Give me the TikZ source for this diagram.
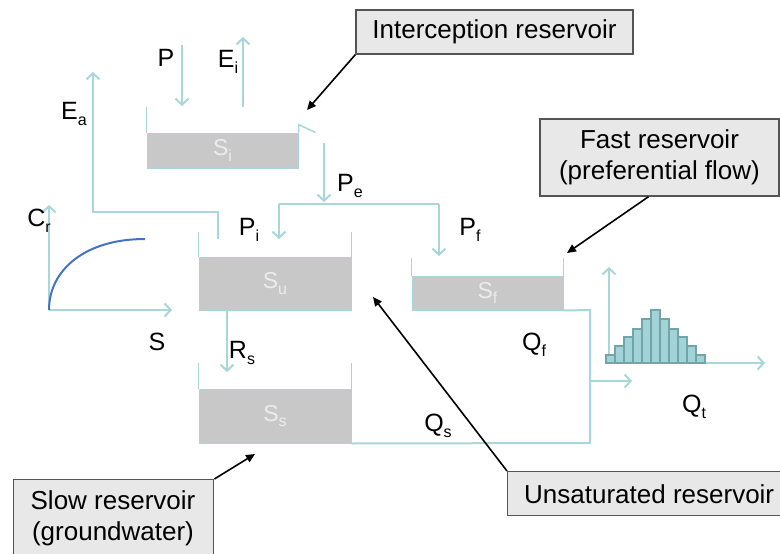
\documentclass[tikz,border=0pt]{standalone}
\usepackage{fontspec}
\setmainfont{Liberation Sans}
\usetikzlibrary{arrows.meta}
\definecolor{flow}{RGB}{168,214,218}
\definecolor{storegray}{RGB}{200,200,200}
\definecolor{storetext}{RGB}{236,236,236}
\definecolor{callfill}{RGB}{232,232,232}
\definecolor{callborder}{RGB}{85,85,85}
\definecolor{curveblue}{RGB}{68,114,196}
\definecolor{barfill}{RGB}{162,211,215}
\definecolor{barborder}{RGB}{112,166,170}
\newcommand{\sbs}[1]{\raisebox{-0.45ex}{\fontsize{16}{16}\selectfont #1}}
\begin{document}
\begin{tikzpicture}[x=1pt,y=-1pt,
  flowline/.style={draw=flow,line width=2pt},
  flowarrow/.style={flowline,-{Straight Barb[length=6pt,width=13pt]}},
  store/.style={fill=storegray,draw=flow,line width=1pt,inner sep=0pt,text=storetext,font=\fontsize{23}{25}\selectfont},
  lbl/.style={inner sep=0pt,font=\fontsize{25}{28}\selectfont},
  callout/.style={fill=callfill,draw=callborder,line width=1.4pt,inner sep=0pt,font=\fontsize{26}{31}\selectfont,align=center},
  pointer/.style={draw=black,line width=1.6pt,-{Triangle[length=9pt,width=8pt]}},
  bar/.style={fill=barfill,draw=barborder,line width=1.2pt}]
\clip (0,0) rectangle (780,554);
\fill[white] (0,0) rectangle (780,554);

% stores
\node[store,minimum width=151pt,minimum height=35pt] (Si) at (222.5,150.5) {S\sbs{i}};
\node[store,minimum width=152pt,minimum height=53pt] (Su) at (275,283.5) {S\sbs{u}};
\node[store,minimum width=151pt,minimum height=34pt] (Sf) at (487.5,293) {S\sbs{f}};
\node[store,minimum width=152pt,minimum height=54pt] (Ss) at (275,416) {S\sbs{s}};

% walls
\draw[flowline,line width=1.5pt] (Si.north west) -- ++(0,-26);
\draw[flowline,line width=1.5pt] (Si.north east) -- ++(0,-8) coordinate (spout) -- ++(17,8) coordinate (lip);
\draw[flowline,line width=1.5pt] (Su.north west) -- ++(0,-25);
\draw[flowline,line width=1.5pt] (Su.north east) -- ++(0,-25);
\draw[flowline,line width=1.5pt] (Sf.north west) -- ++(0,-18);
\draw[flowline,line width=1.5pt] (Sf.north east) -- ++(0,-18);
\draw[flowline,line width=1.5pt] (Ss.north west) -- ++(0,-26);
\draw[flowline,line width=1.5pt] (Ss.north east) -- ++(0,-26);

% coordinates
\coordinate (Ptop) at (182,45);
\coordinate (Pbot) at (182,106);
\coordinate (Eibot) at (243,107);
\coordinate (Eitop) at (243,37);
\coordinate (Petop) at (324,143);
\coordinate (Pebot) at (324,202);
\coordinate (splitL) at (279,204);
\coordinate (splitR) at (439,204);
\coordinate (Piend) at (279,239);
\coordinate (Pfend) at (439,256);
\coordinate (Eastart) at (218,239);
\coordinate (Eacorner) at (93,212);
\coordinate (Eatop) at (93,72);
\coordinate (Rsstart) at (227,310);
\coordinate (Rsend) at (227,372);
\coordinate (Qcol) at (590,310);
\coordinate (Qbot) at (590,443);
\coordinate (Qtstart) at (590,381);
\coordinate (Qtend) at (632,381);

% flows
\draw[flowarrow] (Ptop) -- (Pbot);
\draw[flowarrow] (Eibot) -- (Eitop);
\draw[flowarrow] (Petop) -- (Pebot);
\draw[flowline] (splitL) -- (splitR);
\draw[flowarrow] (splitL) -- (Piend);
\draw[flowarrow] (splitR) -- (Pfend);
\draw[flowarrow] (Eastart) |- (Eacorner) -- (Eatop);
\draw[flowarrow] (Rsstart) -- (Rsend);
\draw[flowline] (Sf.south east) -- (Qcol) -- (Qbot) -- (Ss.south east);
\draw[flowarrow] (Qtstart) -- (Qtend);

% Cr graph
\coordinate (Cro) at (49,310);
\coordinate (Cry) at (49,205);
\coordinate (Crx) at (172,310);
\draw[flowarrow] (Cro) -- (Cry);
\draw[flowarrow] (Cro) -- (Crx);
\draw[curveblue,line width=2pt] (Cro) .. controls (49,270) and (85,239) .. (145,239);

% hydrograph
\coordinate (Ho) at (609,363);
\coordinate (Hy) at (609,267);
\coordinate (Hxs) at (606,363);
\coordinate (Hx) at (765,363);
\draw[flowarrow] (Ho) -- (Hy);
\draw[flowarrow] (Hxs) -- (Hx);
\foreach \h [count=\i from 0] in {8,17,26,34,44,53,44,34,26,17,8}
  \draw[bar] ({606+9*\i},363) rectangle ++(9,-\h);

% labels
\node[lbl] (lP) at (166,58) {P};
\node[lbl] (lEi) at (228,62) {E\sbs{i}};
\node[lbl] (lEa) at (74,114) {E\sbs{a}};
\node[lbl] (lPe) at (350,186) {P\sbs{e}};
\node[lbl] (lPi) at (249,230) {P\sbs{i}};
\node[lbl] (lPf) at (470,230) {P\sbs{f}};
\node[lbl] (lRs) at (242,353) {R\sbs{s}};
\node[lbl] (lQf) at (534,345) {Q\sbs{f}};
\node[lbl] (lQs) at (438,426) {Q\sbs{s}};
\node[lbl] (lQt) at (694,407) {Q\sbs{t}};
\node[lbl] (lS) at (157,342) {S};
\node[lbl] (lCr) at (39,221) {C\sbs{r}};

% callouts
\node[callout,minimum width=277pt,minimum height=44pt] (cInt) at (494.5,32) {Interception reservoir};
\node[callout,minimum width=239pt,minimum height=77pt] (cFast) at (659.5,157.5) {Fast reservoir\\(preferential flow)};
\node[callout,minimum width=200pt,minimum height=90pt,anchor=north west] (cSlow) at (13,479) {};
\node[font=\fontsize{26}{31}\selectfont,align=center,inner sep=0pt] (tSlow) at (113,518) {Slow reservoir\\(groundwater)};
\node[callout,minimum width=290pt,minimum height=44pt,anchor=north west] (cUns) at (507,471) {};
\node[font=\fontsize{26}{31}\selectfont,inner sep=0pt,anchor=west] (tUns) at (524,494) {Unsaturated reservoir};

\coordinate (tipInt) at (307,110);
\coordinate (tipFast) at (567,253);
\coordinate (tipSlow) at (255,454);
\coordinate (tipUns) at (373,297);
\draw[pointer] (cInt.south west) -- (tipInt);
\draw[pointer] ([xshift=-11pt]cFast.south) -- (tipFast);
\draw[pointer] (cSlow.north east) -- (tipSlow);
\draw[pointer] (cUns.north west) -- (tipUns);
\end{tikzpicture}
\end{document}
